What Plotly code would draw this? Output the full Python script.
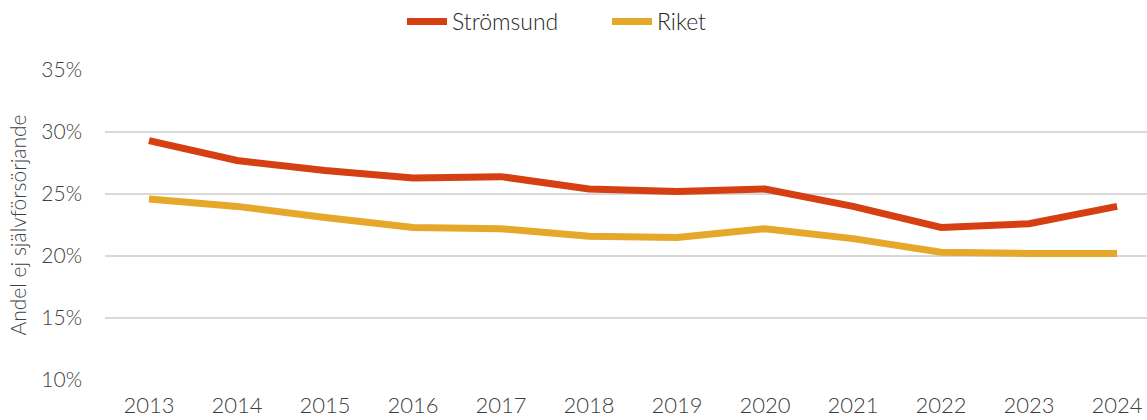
import plotly.graph_objects as go

years = ["2013", "2014", "2015", "2016", "2017", "2018",
         "2019", "2020", "2021", "2022", "2023", "2024"]
stromsund = [29.3, 27.7, 26.9, 26.3, 26.4, 25.4, 25.2, 25.4, 24.0, 22.3, 22.6, 24.0]
riket = [24.6, 24.0, 23.1, 22.3, 22.2, 21.6, 21.5, 22.2, 21.4, 20.3, 20.2, 20.2]
y_ticks = [10, 15, 20, 25, 30, 35]
y_tick_text = ["10%", "15%", "20%", "25%", "30%", "35%"]

FONT = "Lato"
TEXT = "#404040"

fig = go.Figure()
fig.add_trace(go.Scatter(x=years, y=stromsund, name="Strömsund", mode="lines",
                         line=dict(color="#D63F11", width=7)))
fig.add_trace(go.Scatter(x=years, y=riket, name="Riket", mode="lines",
                         line=dict(color="#E5A82A", width=7)))

fig.update_layout(
    width=1147, height=420,
    margin=dict(l=105, r=0, t=70, b=40, autoexpand=False),
    paper_bgcolor="white", plot_bgcolor="white",
    font=dict(family=FONT, color=TEXT, size=20, weight=300),
    showlegend=True,
    legend=dict(orientation="h", x=402 / 1147, xanchor="left", xref="container",
                y=1.0, yanchor="top", yref="container",
                font=dict(size=23, color="#262626", family=FONT),
                itemwidth=40, tracegroupgap=0, entrywidth=150),
    xaxis=dict(type="category", range=[-0.5, 11.34], showgrid=False, zeroline=False,
               showline=False, ticks="", ticklabelstandoff=10, automargin=False,
               tickfont=dict(size=22, color=TEXT, family=FONT)),
    yaxis=dict(range=[10, 35], tickvals=y_ticks, ticktext=y_tick_text,
               showgrid=True, gridcolor="#D9D9D9", gridwidth=2, zeroline=False,
               showline=False, ticks="", ticklabelstandoff=22, automargin=False,
               tickfont=dict(size=21, color=TEXT, family=FONT),
               title=dict(text="Andel ej självförsörjande", standoff=8,
                          font=dict(size=21, color=TEXT, family=FONT))),
)

fig.write_html("out.html")
